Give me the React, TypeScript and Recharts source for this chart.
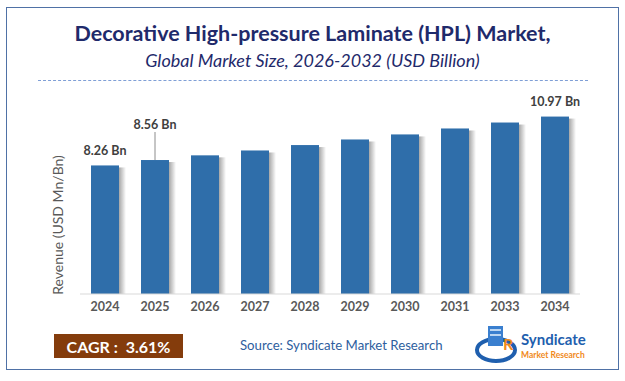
import React from "react";
import { BarChart, Bar, XAxis, YAxis, LabelList } from "recharts";

// values (2032 is missing in the original axis)
const years = ["2024", "2025", "2026", "2027", "2028", "2029", "2030", "2031", "2033", "2034"];
const revenue = [8.26, 8.56, 8.82, 9.09, 9.39, 9.7, 9.98, 10.31, 10.64, 10.97];
const barLabels = ["8.26 Bn", "8.56 Bn", "", "", "", "", "", "", "", "10.97 Bn"];

const data = years.map((year, i) => ({ year, revenue: revenue[i], label: barLabels[i] }));

const FONT = "Lato, 'Noto Sans', sans-serif";

const ShadowBar = (props: any) => {
  const { x, y, width, height, fill } = props;
  return (
    <g>
      <rect x={x + width} y={y + 2} width={7} height={Math.max(height - 2, 0)} fill="url(#barShadow)" />
      <rect x={x} y={y} width={width} height={height} fill={fill} />
    </g>
  );
};

const BarLabel = (props: any) => {
  const { x, y, width, value, index } = props;
  if (!value) return null;
  const cx = x + width / 2;
  const lifted = index === 1;
  const ty = lifted ? y - 36 : y - 15;
  return (
    <g>
      {lifted && <line x1={cx} x2={cx} y1={y - 28} y2={y} stroke="#8c8c8c" strokeWidth={1} />}
      <text x={cx} y={ty} textAnchor="middle" dominantBaseline="central" fill="#404040"
        fontFamily={FONT} fontSize={12.5} fontWeight={700}>
        {value}
      </text>
    </g>
  );
};

export default function App() {
  return (
    <div style={{ position: "fixed", left: 0, top: 0, width: 625, height: 381, background: "#fff", fontFamily: FONT }}>
      <div style={{ position: "absolute", left: 6, top: 7, width: 611, height: 361, border: "1.5px solid #4f71a6" }} />
      <div style={{ position: "absolute", left: 0, width: 625, top: 19, textAlign: "center", color: "#1f2a6b",
        fontSize: 21.5, fontWeight: 700, lineHeight: "28px" }}>
        Decorative High-pressure Laminate (HPL) Market,
      </div>
      <div style={{ position: "absolute", left: 0, width: 625, top: 49, textAlign: "center", color: "#1f2a6b",
        fontSize: 18, fontStyle: "italic", lineHeight: "22px" }}>
        Global Market Size, 2026-2032 (USD Billion)
      </div>
      <div style={{ position: "absolute", left: 38, width: 550, top: 80, borderTop: "1px dashed #7f9fd6" }} />
      <div style={{ position: "absolute", left: 57, top: 225, transform: "translate(-50%, -50%) rotate(-90deg)",
        whiteSpace: "nowrap", color: "#595959", fontSize: 14 }}>
        Revenue (USD Mn/Bn)
      </div>

      <div style={{ position: "absolute", left: 0, top: 0 }}>
        <BarChart width={625} height={381} data={data} margin={{ top: 98, right: 45, bottom: 57, left: 80 }}>
          <defs>
            <linearGradient id="barShadow" x1="0" y1="0" x2="1" y2="0">
              <stop offset="0%" stopColor="#000" stopOpacity={0.35} />
              <stop offset="100%" stopColor="#000" stopOpacity={0} />
            </linearGradient>
          </defs>
          <XAxis dataKey="year" tickLine={false} axisLine={{ stroke: "#d9d9d9" }} height={30}
            tick={{ fill: "#595959", fontSize: 12.5, fontWeight: 700, fontFamily: FONT }} />
          <YAxis hide domain={[1.13, 12]} />
          <Bar dataKey="revenue" fill="#2f6eaa" barSize={28} shape={ShadowBar} isAnimationActive={false}>
            <LabelList dataKey="label" content={BarLabel} />
          </Bar>
        </BarChart>
      </div>

      <div style={{ position: "absolute", left: 54, top: 334, width: 129, height: 24, background: "#843c0c",
        color: "#fff", fontSize: 16, fontWeight: 700, display: "flex", alignItems: "center", justifyContent: "center" }}>
        CAGR :&nbsp; 3.61%
      </div>
      <div style={{ position: "absolute", left: 240, top: 337, color: "#2e5e9e", fontSize: 13.2 }}>
        Source: Syndicate Market Research
      </div>

      <svg style={{ position: "absolute", left: 474, top: 320 }} width={125} height={50}>
        <ellipse cx={22} cy={30} rx={19} ry={11} fill="none" stroke="#1f5fae" strokeWidth={4} />
        <rect x={14} y={6} width={15} height={20} fill="#3a7fcf" />
        <rect x={16} y={9} width={11} height={2} fill="#bcd6f2" />
        <rect x={16} y={14} width={11} height={2} fill="#bcd6f2" />
        <text x={29} y={30} fill="#f08a1c" fontFamily={FONT} fontWeight={700} fontSize={16}>R</text>
        <text x={47} y={25} fill="#1f5fae" fontFamily={FONT} fontWeight={700} fontSize={15}>Syndicate</text>
        <text x={47} y={38} fill="#f08a1c" fontFamily={FONT} fontWeight={700} fontSize={8.5}>Market Research</text>
      </svg>
    </div>
  );
}
